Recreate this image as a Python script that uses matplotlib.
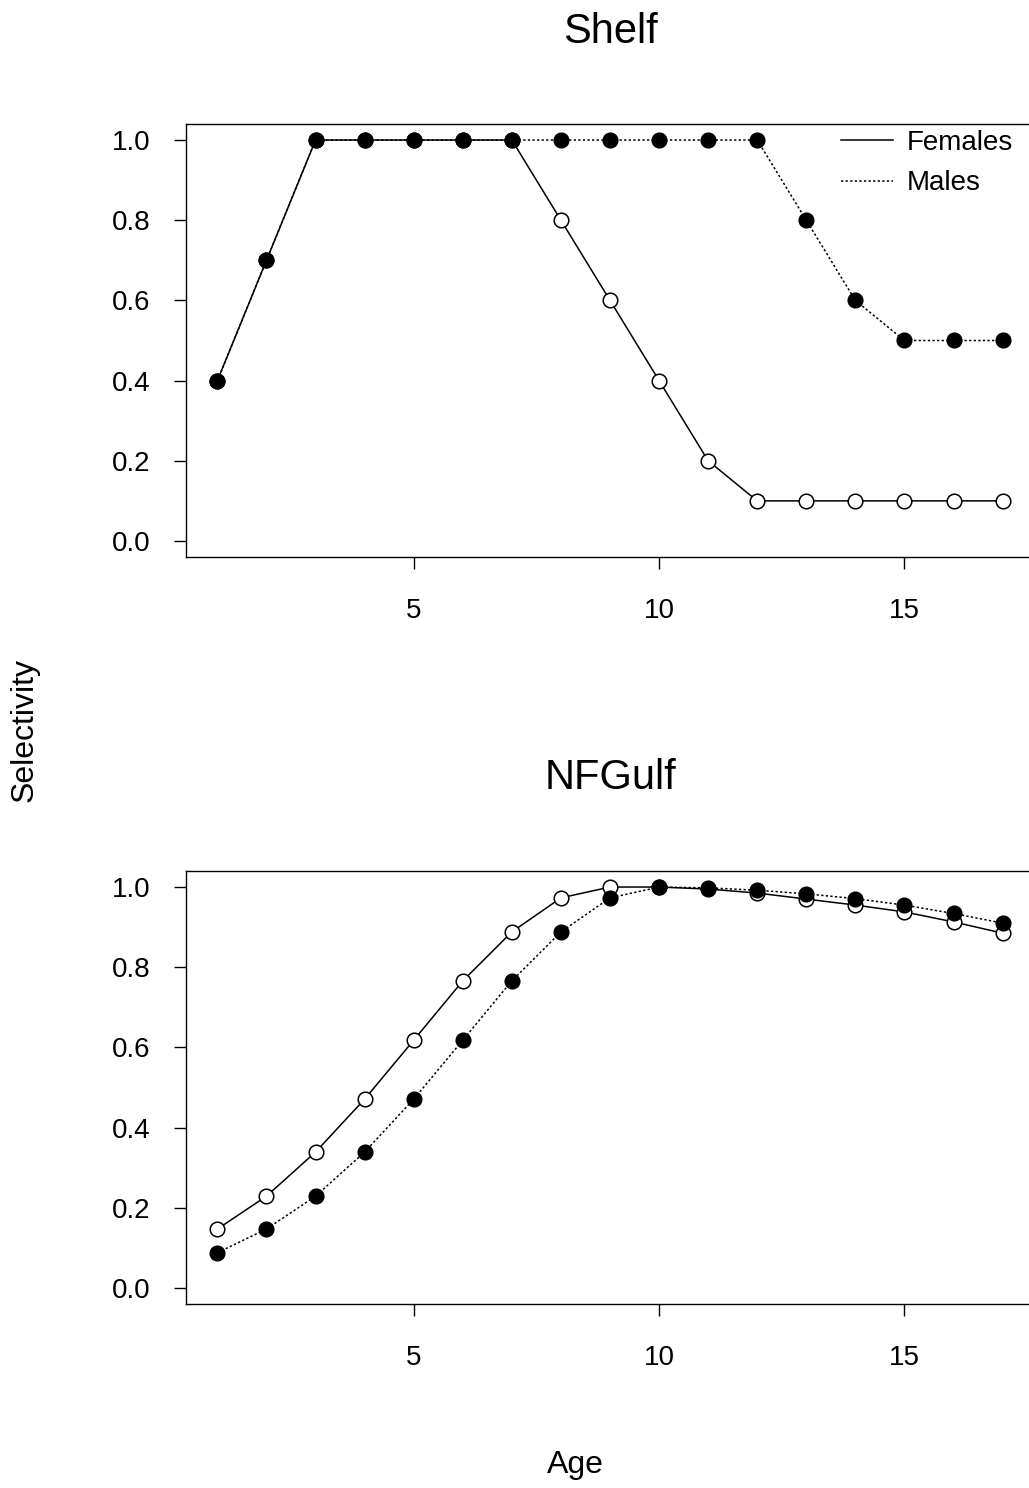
import numpy as np
import matplotlib
matplotlib.use('Agg')
import matplotlib.pyplot as plt

#Ages and selectivity at age for each fleet
ages = np.arange(1, 18)
shelf_fem = [0.4, 0.7, 1.0, 1.0, 1.0, 1.0, 1.0, 0.8, 0.6, 0.4, 0.2, 0.1, 0.1, 0.1, 0.1, 0.1, 0.1]
shelf_mal = [0.4, 0.7, 1.0, 1.0, 1.0, 1.0, 1.0, 1.0, 1.0, 1.0, 1.0, 1.0, 0.8, 0.6, 0.5, 0.5, 0.5]
gulf_fem = [0.147, 0.229, 0.339, 0.471, 0.618, 0.766, 0.888, 0.973, 1.0, 1.0,
            0.995, 0.985, 0.970, 0.955, 0.938, 0.913, 0.885]
gulf_mal = [0.088, 0.147, 0.229, 0.339, 0.471, 0.618, 0.766, 0.888, 0.973, 1.0,
            0.998, 0.992, 0.983, 0.971, 0.955, 0.934, 0.910]
titles = ['Shelf', 'NFGulf']
yticks = [0.0, 0.2, 0.4, 0.6, 0.8, 1.0]
xticks = [5, 10, 15]

plt.rcParams['font.family'] = ['Liberation Sans', 'DejaVu Sans']

W, H = 1029, 1488
fig = plt.figure(figsize=(W/100, H/100), dpi=100)

#axes boxes in pixels: left, right, top, bottom
boxes = [(186, 1034, 124, 557), (186, 1034, 871, 1304)]
title_y = [32, 778]
data = [(shelf_fem, shelf_mal), (gulf_fem, gulf_mal)]
dots = (0, (1.5, 1.5))

for k in range(2):
    l, r, t, b = boxes[k]
    ax = fig.add_axes([l/W, (H-b)/H, (r-l)/W, (b-t)/H])
    fem, mal = data[k]
    ax.plot(ages, fem, color='black', lw=1.1, ls='-', marker='o', ms=10.5,
            mfc='white', mec='black', mew=1.1)
    ax.plot(ages, mal, color='black', lw=1.1, ls=dots, marker='o', ms=10.5,
            mfc='black', mec='black', mew=1.1)
    ax.set_xlim(0.36, 17.64)
    ax.set_ylim(-0.04, 1.04)
    ax.set_xticks(xticks)
    ax.set_yticks(yticks)
    ax.set_yticklabels(['%.1f' % v for v in yticks])
    ax.tick_params(direction='out', length=8.6, width=1.0, labelsize=20)
    ax.tick_params(axis='y', pad=17)
    ax.tick_params(axis='x', pad=21)
    for s in ax.spines.values():
        s.set_linewidth(1.0)
    fig.text((l+r)/2/W, 1-title_y[k]/H, titles[k], fontsize=30, ha='center', va='center')
    if k == 0:
        #legend lines only, no markers
        h1, = ax.plot([], [], color='black', lw=1.1, ls='-')
        h2, = ax.plot([], [], color='black', lw=1.1, ls=dots)
        ax.legend([h1, h2], ['Females', 'Males'], loc='upper right', frameon=False,
                  fontsize=20, handlelength=1.87, handletextpad=0.47, labelspacing=0.52,
                  bbox_to_anchor=(0.988, 1.012), borderaxespad=0)

fig.text(25/W, 1-730/H, 'Selectivity', fontsize=23, rotation=90, ha='center', va='center')
fig.text(575/W, 1-1465/H, 'Age', fontsize=23, ha='center', va='center')

fig.savefig('out.png', dpi=100)
